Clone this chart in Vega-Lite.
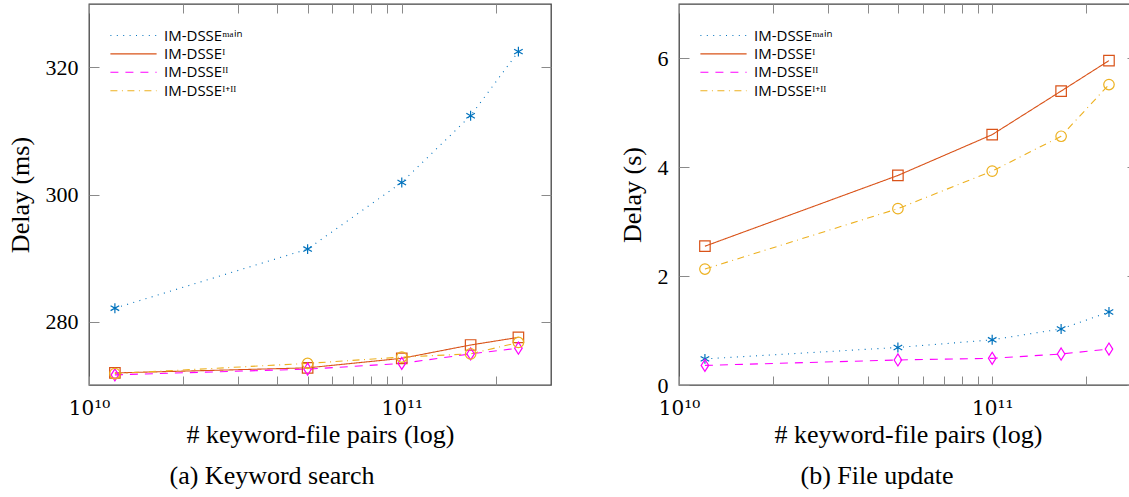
{
  "$schema": "https://vega.github.io/schema/vega-lite/v6.json",
  "padding": {"left": 6, "top": 2, "right": 0, "bottom": 0},
  "spacing": 65,
  "background": "white",
  "config": {
    "view": {"stroke": "#444444", "strokeWidth": 1.3},
    "axis": {
      "domain": false, "grid": false, "tickColor": "#8a8a8a", "tickWidth": 1,
      "labelFont": "Liberation Serif", "labelFontSize": 22, "labelColor": "black",
      "labelFlush": false, "labelOverlap": false, "labelBound": false,
      "titleFont": "Liberation Serif", "titleFontSize": 26, "titleFontWeight": "normal", "titleColor": "black"
    },
    "legend": {
      "orient": "none", "legendX": 37, "legendY": 24, "title": null, "padding": 0,
      "symbolStrokeWidth": 1.1, "labelOffset": 23,
      "labelFont": "Open Sans", "labelFontSize": 15, "labelColor": "black", "labelBaseline": "middle", "rowPadding": 2.4
    }
  },
  "datasets": {
    "search": [
      {"pairs": 1.21e10, "series": "main", "mk": "1", "delay": 282.1},
      {"pairs": 5.0e10, "series": "main", "mk": "1", "delay": 291.4},
      {"pairs": 1.0e11, "series": "main", "mk": "1", "delay": 301.9},
      {"pairs": 1.66e11, "series": "main", "mk": "1", "delay": 312.4},
      {"pairs": 2.36e11, "series": "main", "mk": "1", "delay": 322.5},
      {"pairs": 1.21e10, "series": "I", "mk": "2", "delay": 271.9},
      {"pairs": 5.0e10, "series": "I", "mk": "2", "delay": 272.7},
      {"pairs": 1.0e11, "series": "I", "mk": "2", "delay": 274.2},
      {"pairs": 1.66e11, "series": "I", "mk": "2", "delay": 276.3},
      {"pairs": 2.36e11, "series": "I", "mk": "2", "delay": 277.5},
      {"pairs": 1.21e10, "series": "II", "mk": "3", "delay": 271.6},
      {"pairs": 5.0e10, "series": "II", "mk": "3", "delay": 272.5},
      {"pairs": 1.0e11, "series": "II", "mk": "3", "delay": 273.4},
      {"pairs": 1.66e11, "series": "II", "mk": "3", "delay": 274.9},
      {"pairs": 2.36e11, "series": "II", "mk": "3", "delay": 275.8},
      {"pairs": 1.21e10, "series": "I+II", "mk": "4", "delay": 271.8},
      {"pairs": 5.0e10, "series": "I+II", "mk": "4", "delay": 273.4},
      {"pairs": 1.0e11, "series": "I+II", "mk": "4", "delay": 274.4},
      {"pairs": 1.66e11, "series": "I+II", "mk": "4", "delay": 274.9},
      {"pairs": 2.36e11, "series": "I+II", "mk": "4", "delay": 276.7}
    ],
    "update": [
      {"pairs": 1.21e10, "series": "main", "mk": "1", "delay": 0.48},
      {"pairs": 5.0e10, "series": "main", "mk": "1", "delay": 0.69},
      {"pairs": 1.0e11, "series": "main", "mk": "1", "delay": 0.83},
      {"pairs": 1.66e11, "series": "main", "mk": "1", "delay": 1.03},
      {"pairs": 2.36e11, "series": "main", "mk": "1", "delay": 1.34},
      {"pairs": 1.21e10, "series": "I", "mk": "2", "delay": 2.55},
      {"pairs": 5.0e10, "series": "I", "mk": "2", "delay": 3.85},
      {"pairs": 1.0e11, "series": "I", "mk": "2", "delay": 4.6},
      {"pairs": 1.66e11, "series": "I", "mk": "2", "delay": 5.4},
      {"pairs": 2.36e11, "series": "I", "mk": "2", "delay": 5.96},
      {"pairs": 1.21e10, "series": "II", "mk": "3", "delay": 0.36},
      {"pairs": 5.0e10, "series": "II", "mk": "3", "delay": 0.46},
      {"pairs": 1.0e11, "series": "II", "mk": "3", "delay": 0.49},
      {"pairs": 1.66e11, "series": "II", "mk": "3", "delay": 0.57},
      {"pairs": 2.36e11, "series": "II", "mk": "3", "delay": 0.66},
      {"pairs": 1.21e10, "series": "I+II", "mk": "4", "delay": 2.13},
      {"pairs": 5.0e10, "series": "I+II", "mk": "4", "delay": 3.24},
      {"pairs": 1.0e11, "series": "I+II", "mk": "4", "delay": 3.93},
      {"pairs": 1.66e11, "series": "I+II", "mk": "4", "delay": 4.57},
      {"pairs": 2.36e11, "series": "I+II", "mk": "4", "delay": 5.52}
    ]
  },
  "hconcat": [
    {
      "data": {"name": "search"},
      "width": 462, "height": 381,
      "title": {"text": "(a) Keyword search", "orient": "bottom", "anchor": "middle", "dx": -48, "baseline": "alphabetic", "offset": 37, "font": "Liberation Serif", "fontSize": 26, "fontWeight": "normal", "color": "black"},
      "layer": [
        {
          "mark": {"type": "line", "strokeWidth": 1.1},
          "encoding": {
            "x": {"field": "pairs", "type": "quantitative", "scale": {"type": "log", "domain": [1e10, 3e11], "nice": false},
              "axis": {"orient": "bottom", "values": [1e10, 2e10, 3e10, 4e10, 5e10, 6e10, 7e10, 8e10, 9e10, 1e11, 2e11],
                "labelExpr": "datum.value == 1e10 ? '10¹⁰' : datum.value == 1e11 ? '10¹¹' : ''",
                "labelFont": "DejaVu Serif", "labelFontSize": 20,
                "title": "# keyword-file pairs (log)", "tickSize": -9, "labelPadding": 38, "labelBaseline": "alphabetic",
                "titleBaseline": "alphabetic", "titlePadding": 24, "titleFontWeight": "normal",
                "encode": {"ticks": {"update": {"y2": {"signal": "(datum.value == 1e10 || datum.value == 1e11) ? -10 : -7"}}}}}},
            "y": {"field": "delay", "type": "quantitative", "scale": {"domain": [270, 330], "nice": false, "zero": false},
              "axis": {"orient": "left", "values": [280, 300, 320], "title": "Delay (ms)", "tickSize": -10, "labelPadding": 21, "titlePadding": 12, "titleFontWeight": "normal"}},
            "color": {"field": "series", "type": "nominal",
              "scale": {"domain": ["main", "I", "II", "I+II"], "range": ["#0072BD", "#D95319", "#FF00FF", "#EDB120"]},
              "legend": {"symbolType": "M-4.2,0H4.2", "symbolSize": 121,
                "labelExpr": "datum.label === 'main' ? 'IM-DSSEᵐᵃⁱⁿ' : datum.label === 'I' ? 'IM-DSSEᴵ' : datum.label === 'II' ? 'IM-DSSEᴵᴵ' : 'IM-DSSEᴵ⁺ᴵᴵ'"}},
            "strokeDash": {"field": "series", "type": "nominal", "legend": null,
              "scale": {"domain": ["main", "I", "II", "I+II"], "range": [[1, 5.4], [1, 0], [8, 7], [7, 4.5, 1, 4.5]]}}
          }
        },
        {
          "mark": {"type": "point", "filled": false, "size": 110, "strokeWidth": 1.2, "opacity": 1},
          "encoding": {
            "x": {"field": "pairs", "type": "quantitative", "scale": {"type": "log", "domain": [1e10, 3e11], "nice": false},
              "axis": {"orient": "top", "values": [1e10, 2e10, 3e10, 4e10, 5e10, 6e10, 7e10, 8e10, 9e10, 1e11, 2e11], "labels": false, "title": null, "tickSize": -9,
                "encode": {"ticks": {"update": {"y2": {"signal": "(datum.value == 1e10 || datum.value == 1e11) ? 10 : 7"}}}}}},
            "y": {"field": "delay", "type": "quantitative", "scale": {"domain": [270, 330], "nice": false, "zero": false},
              "axis": {"orient": "right", "values": [280, 300, 320], "labels": false, "title": null, "tickSize": -10}},
            "stroke": {"field": "mk", "type": "nominal", "legend": null,
              "scale": {"domain": ["1", "2", "3", "4"], "range": ["#0072BD", "#D95319", "#FF00FF", "#EDB120"]}},
            "shape": {"field": "mk", "type": "nominal", "legend": null,
              "scale": {"domain": ["1", "2", "3", "4"], "range": ["M0,-0.95V0.95M-0.82,-0.47L0.82,0.47M-0.82,0.47L0.82,-0.47", "M-1,-1H1V1H-1Z", "M0,-1.15L0.72,0L0,1.15L-0.72,0Z", "M1,0A1,1 0 1,1 -1,0A1,1 0 1,1 1,0Z"]}}
          }
        }
      ],
      "resolve": {"axis": {"x": "independent", "y": "independent"}}
    },
    {
      "data": {"name": "update"},
      "width": 458, "height": 381,
      "title": {"text": "(b) File update", "orient": "bottom", "anchor": "middle", "dx": -31, "baseline": "alphabetic", "offset": 37, "font": "Liberation Serif", "fontSize": 26, "fontWeight": "normal", "color": "black"},
      "layer": [
        {
          "mark": {"type": "line", "strokeWidth": 1.1},
          "encoding": {
            "x": {"field": "pairs", "type": "quantitative", "scale": {"type": "log", "domain": [1e10, 2.9e11], "nice": false},
              "axis": {"orient": "bottom", "values": [1e10, 2e10, 3e10, 4e10, 5e10, 6e10, 7e10, 8e10, 9e10, 1e11, 2e11],
                "labelExpr": "datum.value == 1e10 ? '10¹⁰' : datum.value == 1e11 ? '10¹¹' : ''",
                "labelFont": "DejaVu Serif", "labelFontSize": 20,
                "title": "# keyword-file pairs (log)", "tickSize": -9, "labelPadding": 38, "labelBaseline": "alphabetic",
                "titleBaseline": "alphabetic", "titlePadding": 24, "titleFontWeight": "normal",
                "encode": {"ticks": {"update": {"y2": {"signal": "(datum.value == 1e10 || datum.value == 1e11) ? -10 : -7"}}}}}},
            "y": {"field": "delay", "type": "quantitative", "scale": {"domain": [0, 7], "nice": false, "zero": false},
              "axis": {"orient": "left", "values": [0, 2, 4, 6], "title": "Delay (s)", "tickSize": -10, "labelPadding": 21, "titlePadding": 12, "titleFontWeight": "normal"}},
            "color": {"field": "series", "type": "nominal",
              "scale": {"domain": ["main", "I", "II", "I+II"], "range": ["#0072BD", "#D95319", "#FF00FF", "#EDB120"]},
              "legend": {"symbolType": "M-4.2,0H4.2", "symbolSize": 121,
                "labelExpr": "datum.label === 'main' ? 'IM-DSSEᵐᵃⁱⁿ' : datum.label === 'I' ? 'IM-DSSEᴵ' : datum.label === 'II' ? 'IM-DSSEᴵᴵ' : 'IM-DSSEᴵ⁺ᴵᴵ'"}},
            "strokeDash": {"field": "series", "type": "nominal", "legend": null,
              "scale": {"domain": ["main", "I", "II", "I+II"], "range": [[1, 5.4], [1, 0], [8, 7], [7, 4.5, 1, 4.5]]}}
          }
        },
        {
          "mark": {"type": "point", "filled": false, "size": 110, "strokeWidth": 1.2, "opacity": 1},
          "encoding": {
            "x": {"field": "pairs", "type": "quantitative", "scale": {"type": "log", "domain": [1e10, 2.9e11], "nice": false},
              "axis": {"orient": "top", "values": [1e10, 2e10, 3e10, 4e10, 5e10, 6e10, 7e10, 8e10, 9e10, 1e11, 2e11], "labels": false, "title": null, "tickSize": -9,
                "encode": {"ticks": {"update": {"y2": {"signal": "(datum.value == 1e10 || datum.value == 1e11) ? 10 : 7"}}}}}},
            "y": {"field": "delay", "type": "quantitative", "scale": {"domain": [0, 7], "nice": false, "zero": false},
              "axis": {"orient": "right", "values": [0, 2, 4, 6], "labels": false, "title": null, "tickSize": -10}},
            "stroke": {"field": "mk", "type": "nominal", "legend": null,
              "scale": {"domain": ["1", "2", "3", "4"], "range": ["#0072BD", "#D95319", "#FF00FF", "#EDB120"]}},
            "shape": {"field": "mk", "type": "nominal", "legend": null,
              "scale": {"domain": ["1", "2", "3", "4"], "range": ["M0,-0.95V0.95M-0.82,-0.47L0.82,0.47M-0.82,0.47L0.82,-0.47", "M-1,-1H1V1H-1Z", "M0,-1.15L0.72,0L0,1.15L-0.72,0Z", "M1,0A1,1 0 1,1 -1,0A1,1 0 1,1 1,0Z"]}}
          }
        }
      ],
      "resolve": {"axis": {"x": "independent", "y": "independent"}}
    }
  ],
  "resolve": {
    "scale": {"color": "independent", "stroke": "independent", "shape": "independent", "strokeDash": "independent", "x": "independent", "y": "independent"},
    "legend": {"color": "independent"}
  }
}
